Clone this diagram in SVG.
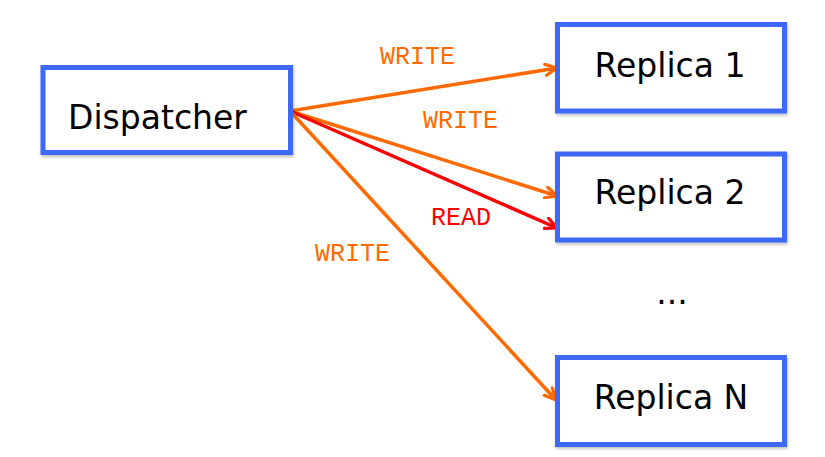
<svg xmlns="http://www.w3.org/2000/svg" width="825" height="457" viewBox="0 0 825 457">
<defs>
<style>
.box{fill:#ffffff;stroke:#3c68f8;stroke-width:5;filter:url(#sh)}
.ntext{font-family:"DejaVu Sans",Verdana,sans-serif;font-size:33px;fill:#000000}
.lbl{font-family:"Liberation Mono","Courier New",monospace;font-size:25px}
.w{fill:#ff6a00}
.r{fill:#ff0000}
.eo{stroke:#ff6a00;stroke-width:3.5;fill:none}
.er{stroke:#ff0000;stroke-width:3.5;fill:none}
</style>
<filter id="sh" x="-10%" y="-10%" width="130%" height="130%">
<feDropShadow dx="1" dy="2" stdDeviation="1.5" flood-color="#000000" flood-opacity="0.25"/>
</filter>
<marker id="ao" viewBox="0 0 14 14" refX="13" refY="7" markerWidth="14" markerHeight="14" markerUnits="userSpaceOnUse" orient="auto">
<path d="M1.5,1.5 L13,7 L1.5,12.5" fill="none" stroke="#ff6a00" stroke-width="3.2" stroke-linecap="round" stroke-linejoin="round"/>
</marker>
<marker id="ar" viewBox="0 0 14 14" refX="13" refY="7" markerWidth="14" markerHeight="14" markerUnits="userSpaceOnUse" orient="auto">
<path d="M1.5,1.5 L13,7 L1.5,12.5" fill="none" stroke="#ff0000" stroke-width="3.2" stroke-linecap="round" stroke-linejoin="round"/>
</marker>
</defs>
<rect width="825" height="457" fill="#ffffff"/>
<g id="connectors">
<line class="eo" x1="290" y1="111" x2="557" y2="68" marker-end="url(#ao)"/>
<line class="eo" x1="290" y1="111" x2="557" y2="196" marker-end="url(#ao)"/>
<line class="er" x1="290" y1="111" x2="557" y2="228" marker-end="url(#ar)"/>
<line class="eo" x1="290" y1="111" x2="556" y2="400" marker-end="url(#ao)"/>
<text class="lbl w" x="380" y="64">WRITE</text>
<text class="lbl w" x="423" y="128">WRITE</text>
<text class="lbl r" x="431" y="225">READ</text>
<text class="lbl w" x="315" y="261">WRITE</text>
</g>
<g id="dispatcher">
<rect class="box" x="43" y="67.5" width="247.5" height="85"/>
<text class="ntext" x="68" y="129">Dispatcher</text>
</g>
<g id="replica1">
<rect class="box" x="557.5" y="24.5" width="227" height="86.5"/>
<text class="ntext" x="670" y="77" text-anchor="middle">Replica 1</text>
</g>
<g id="replica2">
<rect class="box" x="557.5" y="154" width="227" height="86"/>
<text class="ntext" x="670" y="204" text-anchor="middle">Replica 2</text>
</g>
<g id="ellipsis">
<text class="ntext" x="672" y="304" text-anchor="middle">...</text>
</g>
<g id="replicaN">
<rect class="box" x="557.5" y="357.5" width="227" height="87"/>
<text class="ntext" x="671" y="409" text-anchor="middle">Replica N</text>
</g>
</svg>
